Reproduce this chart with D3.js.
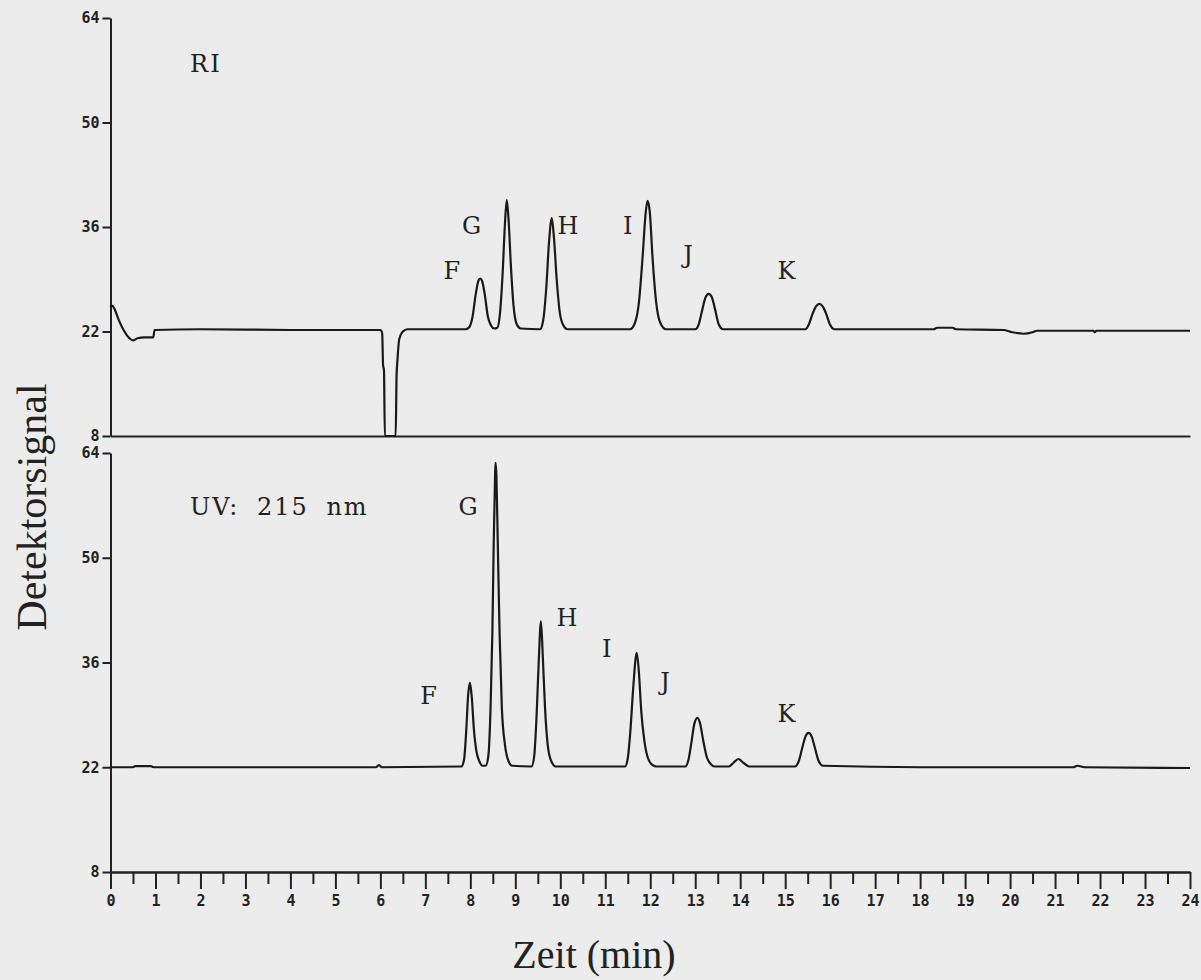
<!DOCTYPE html>
<html>
<head>
<meta charset="utf-8">
<script src="https://cdn.jsdelivr.net/npm/d3@7"></script>
<style>
body{margin:0;background:#ececec;}
svg{display:block;}
.tick text{font-family:"DejaVu Sans Mono",monospace;font-weight:bold;font-size:15px;fill:#222;}
.domain,.tick line{stroke:#222;stroke-width:2px;}
.trace{fill:none;stroke:#1a1a1a;stroke-width:2.2px;stroke-linejoin:round;}
.peak{font-family:"DejaVu Serif",serif;font-size:24px;fill:#222;}
.head{letter-spacing:2px;word-spacing:8px;}
.title{font-family:"Liberation Serif","Times New Roman",serif;font-size:42px;fill:#222;}
</style>
</head>
<body>
<div id="chart"></div>
<script>
// Achsen
var timeTicks = d3.range(0, 25);
var halfTicks = d3.range(0.5, 24, 1);
var signalTicks = [8, 22, 36, 50, 64];

// RI-Detektor [Zeit (min), Signal]
var riTrace = [
  [0,25.3],[0.03,25.5],[0.09,25.0],[0.18,23.6],[0.3,22.1],[0.42,21.1],[0.5,20.8],[0.6,21.1],
  [0.75,21.2],[0.95,21.2],[0.98,22.2],[2,22.3],[4,22.2],[6,22.2],[6.04,21.8],[6.06,17.5],
  [6.08,16.8],[6.1,8],[6.34,8],[6.36,16],[6.38,18.2],[6.42,21],[6.5,22],[6.6,22.3],
  [7.9,22.3],[7.98,22.6],[8.05,24],[8.12,27],[8.18,28.8],[8.22,29.1],[8.26,28.8],[8.32,27],
  [8.39,24],[8.46,22.8],[8.53,22.4],[8.6,22.5],[8.66,24.5],[8.72,30],[8.77,36.5],[8.81,39.6],
  [8.85,37],[8.9,31],[8.96,25.5],[9.03,23],[9.12,22.4],[9.55,22.3],[9.62,23.5],[9.69,28],
  [9.75,34],[9.81,37.2],[9.86,34.5],[9.92,29],[9.99,24.5],[10.07,22.8],[10.16,22.3],
  [11.55,22.3],[11.65,23],[11.75,26],[11.83,32],[11.9,38],[11.94,39.5],[11.99,38],[12.05,32],
  [12.13,26],[12.22,23.2],[12.35,22.3],[13,22.3],[13.08,23],[13.16,25],[13.23,26.6],[13.3,27.05],
  [13.37,26.6],[13.44,25],[13.52,23],[13.62,22.3],[15.45,22.3],[15.53,23],[15.61,24.4],
  [15.69,25.4],[15.76,25.7],[15.83,25.4],[15.91,24.4],[15.99,23],[16.1,22.3],[18.3,22.3],
  [18.38,22.5],[18.72,22.5],[18.8,22.3],[19.85,22.2],[20.05,21.9],[20.3,21.7],[20.5,21.9],
  [20.6,22.1],[21.85,22.1],[21.88,21.9],[21.92,22.1],[24,22.1]
];

// UV-Detektor 215 nm [Zeit (min), Signal]
var uvTrace = [
  [0,22.0],[0.5,22.0],[0.55,22.15],[0.9,22.15],[0.95,22.0],[5.9,22.0],[5.97,22.3],[6.03,22.0],
  [7.8,22.1],[7.86,23],[7.91,27],[7.95,31.5],[7.99,33.3],[8.03,31.5],[8.08,27],[8.14,24],
  [8.2,22.8],[8.27,22.2],[8.34,22.2],[8.4,23.5],[8.45,30],[8.49,40],[8.52,52],[8.55,61],
  [8.56,62.7],[8.58,61],[8.61,52],[8.65,40],[8.7,30],[8.77,25],[8.85,22.8],[8.93,22.2],
  [9.36,22.1],[9.42,23.5],[9.47,28.5],[9.52,36],[9.57,41.5],[9.61,37],[9.66,30],[9.72,25],
  [9.8,22.8],[9.9,22.1],[11.44,22.1],[11.5,23.2],[11.56,27],[11.62,32.5],[11.7,37.3],
  [11.75,34.5],[11.8,29.5],[11.87,25.5],[11.95,23.2],[12.05,22.3],[12.14,22.1],[12.78,22.1],
  [12.85,23],[12.92,25.5],[12.98,27.8],[13.05,28.6],[13.11,27.8],[13.18,25.5],[13.26,23.3],
  [13.35,22.4],[13.43,22.1],[13.75,22.1],[13.85,22.6],[13.96,23.1],[14.07,22.6],[14.2,22.1],
  [15.22,22.1],[15.3,22.8],[15.38,24.6],[15.45,26.1],[15.52,26.6],[15.59,26.1],[15.66,24.6],
  [15.74,22.9],[15.84,22.2],[18,22.0],[21.4,22.0],[21.5,22.2],[21.65,22.0],[24,21.9]
];

// Beschriftungen [Text, Zeit, Signal]
var riLabels = [["RI",1.77,56.8],["F",7.59,29.1],["G",8.03,35.1],["H",10.17,35.1],["I",11.5,35.1],["J",12.84,31.2],["K",15.03,29.0]];
var uvLabels = [["UV: 215 nm",1.77,55.7],["F",7.07,30.5],["G",7.95,55.7],["H",10.15,40.9],["I",11.03,36.7],["J",12.33,32.3],["K",15.03,28.1]];

var width = 1201, height = 980;
var svg = d3.select("#chart").append("svg").attr("width", width).attr("height", height);

var x = d3.scaleLinear().domain([0, 24]).range([110.5, 1190]);
var yTop = d3.scaleLinear().domain([8, 64]).range([436, 18]);
var yBot = d3.scaleLinear().domain([8, 64]).range([872, 453]);

function drawPanel(y, trace, labels, withTicks) {
    var g = svg.append("g");
    g.append("g").attr("transform", "translate(" + x(0) + ",0)")
        .call(d3.axisLeft(y).tickValues(signalTicks).tickSize(8).tickPadding(3).tickSizeOuter(0));
    if (withTicks) {
        g.append("g").attr("transform", "translate(0," + y(8) + ")")
            .call(d3.axisBottom(x).tickValues(halfTicks).tickSize(12).tickFormat("").tickSizeOuter(0));
        g.append("g").attr("transform", "translate(0," + y(8) + ")")
            .call(d3.axisBottom(x).tickValues(timeTicks).tickSize(17).tickPadding(6).tickSizeOuter(0));
    } else {
        g.append("g").attr("transform", "translate(0," + y(8) + ")")
            .call(d3.axisBottom(x).tickValues([]).tickSizeOuter(0));
    }
    var line = d3.line().x(d => x(d[0])).y(d => y(d[1])).curve(d3.curveMonotoneX);
    g.append("path").attr("class", "trace").attr("d", line(trace));
    g.selectAll("text.peak").data(labels).enter().append("text")
        .attr("class", (d, i) => i == 0 ? "peak head" : "peak")
        .attr("x", d => x(d[1]))
        .attr("y", d => y(d[2]))
        .attr("text-anchor", (d, i) => i == 0 ? "start" : "middle")
        .text(d => d[0]);
}

drawPanel(yTop, riTrace, riLabels, false);
drawPanel(yBot, uvTrace, uvLabels, true);

svg.append("text").attr("class", "title")
    .attr("transform", "translate(46,507) rotate(-90)")
    .attr("text-anchor", "middle")
    .text("Detektorsignal");
svg.append("text").attr("class", "title")
    .attr("x", 594).attr("y", 968)
    .attr("text-anchor", "middle")
    .style("font-size", "40px")
    .text("Zeit (min)");
</script>
</body>
</html>
